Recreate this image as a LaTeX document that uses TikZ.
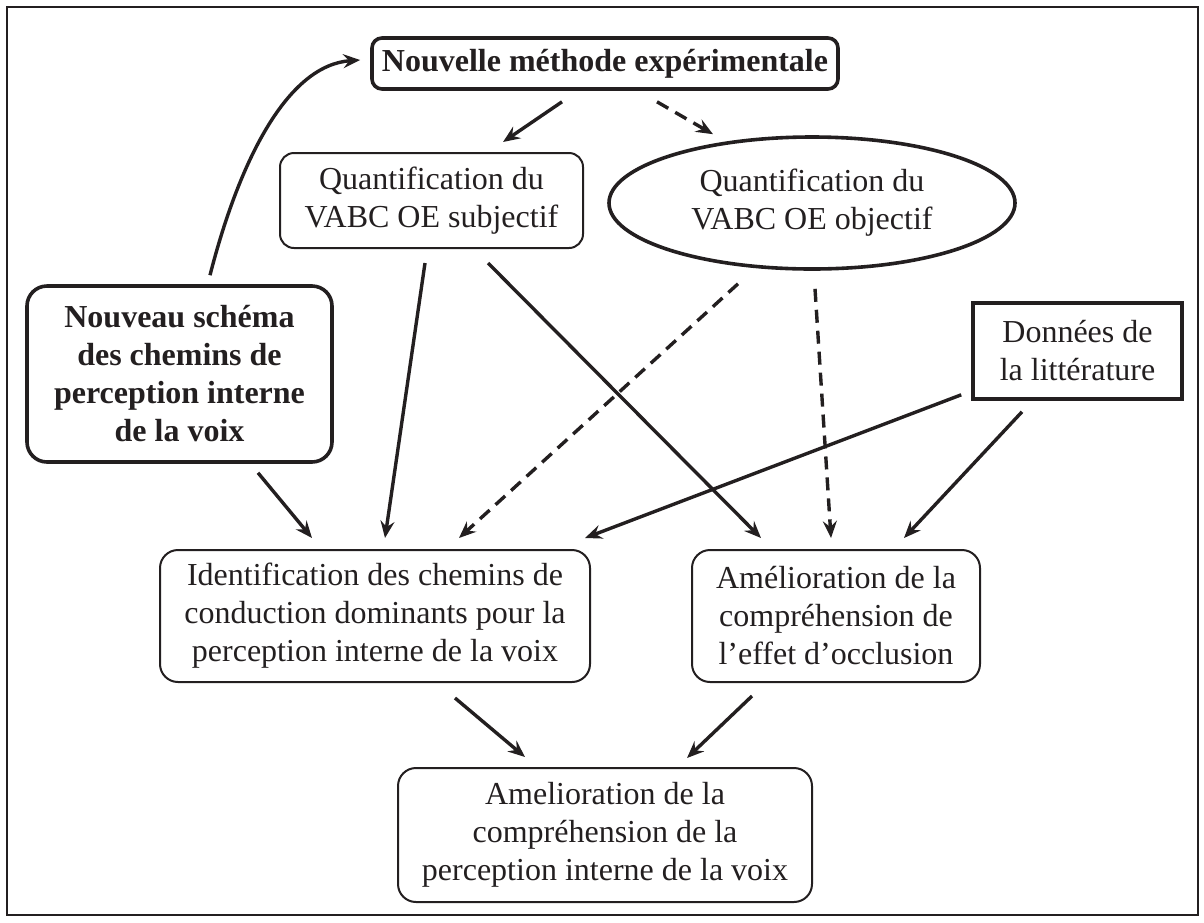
\documentclass[tikz,border=0pt]{standalone}
\usepackage{fontspec}
\setmainfont{Liberation Serif}
\usetikzlibrary{shapes.geometric,arrows.meta,calc}
\definecolor{ink}{RGB}{35,31,32}
\begin{document}
\begin{tikzpicture}[x=1pt,y=-1pt,
  every node/.style={font=\fontsize{32}{38}\selectfont, text=ink, align=center, inner sep=0pt},
  thinbox/.style={draw=ink, line width=2pt, rounded corners=18pt},
  thickbox/.style={draw=ink, line width=3.6pt, rounded corners=14pt},
  squarebox/.style={draw=ink, line width=3.6pt},
  ovalbox/.style={draw=ink, line width=3.6pt, ellipse},
  arr/.style={draw=ink, line width=3.4pt, -{Stealth[length=17pt,width=14pt,inset=6pt]}},
  dasharr/.style={arr, dash pattern=on 13pt off 8pt}]
\useasboundingbox (0,0) rectangle (1204,922);
\draw[ink, line width=2.6pt] (7,7) rectangle (1198,915);

\node[thickbox, minimum width=466pt, minimum height=51pt, rounded corners=10pt] (nouv) at (605,63.5) {\textbf{Nouvelle méthode expérimentale}};
\node[thinbox, minimum width=303pt, minimum height=95pt, rounded corners=14pt] (subj) at (431.5,200.5) {Quantification du\\VABC OE subjectif};
\node[ovalbox, minimum width=406pt, minimum height=132pt] (obj) at (812,203) {Quantification du\\VABC OE objectif};
\node[thickbox, minimum width=305pt, minimum height=176pt, rounded corners=20pt] (nsch) at (179.5,374) {\textbf{Nouveau schéma}\\\textbf{des chemins de}\\\textbf{perception interne}\\\textbf{de la voix}};
\node[squarebox, minimum width=209pt, minimum height=96pt] (donn) at (1077.5,351) {Données de\\la littérature};
\node[thinbox, minimum width=430pt, minimum height=132pt] (ident) at (375,616) {Identification des chemins de\\conduction dominants pour la\\perception interne de la voix};
\node[thinbox, minimum width=288pt, minimum height=132pt] (amel) at (836,616) {Amélioration de la\\compréhension de\\l’effet d’occlusion};
\node[thinbox, minimum width=414pt, minimum height=134pt] (fin) at (605,835) {Amelioration de la\\compréhension de la\\perception interne de la voix};

% curved arrow
\draw[arr] ($(nsch.north)+(30.5,-9)$) .. controls +(30,-117) and +(-72,5) .. ($(nouv.west)+(-10,-3.5)$);
% from Nouvelle methode
\draw[arr] ($(nouv.south)+(-43,11)$) -- ($(subj.north)+(71.5,-10)$);
\draw[dasharr] ($(nouv.south)+(52,11)$) -- ($(obj.north)+(-99,-1)$);
% from subjectif
\draw[arr] ($(subj.south)+(-6.5,14)$) -- ($(ident.north)+(10,-11)$);
\draw[arr] ($(subj.south)+(56.5,14)$) -- ($(amel.north)+(-75,-11)$);
% from objectif
\draw[dasharr] ($(obj.south)+(-74,13)$) -- ($(ident.north)+(84,-11)$);
\draw[dasharr] ($(obj.south)+(3,18)$) -- ($(amel.north)+(-5,-11)$);
% from Donnees
\draw[arr] ($(donn.south west)+(-10,-6)$) -- ($(ident.north)+(210,-11)$);
\draw[arr] ($(donn.south)+(-55.5,11)$) -- ($(amel.north)+(68,-11)$);
% from Nouveau schema
\draw[arr] ($(nsch.south)+(78.5,9)$) -- ($(ident.north)+(-63,-11)$);
% to final
\draw[arr] ($(ident.south)+(80,15)$) -- ($(fin.north)+(-80,-10)$);
\draw[arr] ($(amel.south)+(-84,13)$) -- ($(fin.north)+(82,-9)$);
\end{tikzpicture}
\end{document}
